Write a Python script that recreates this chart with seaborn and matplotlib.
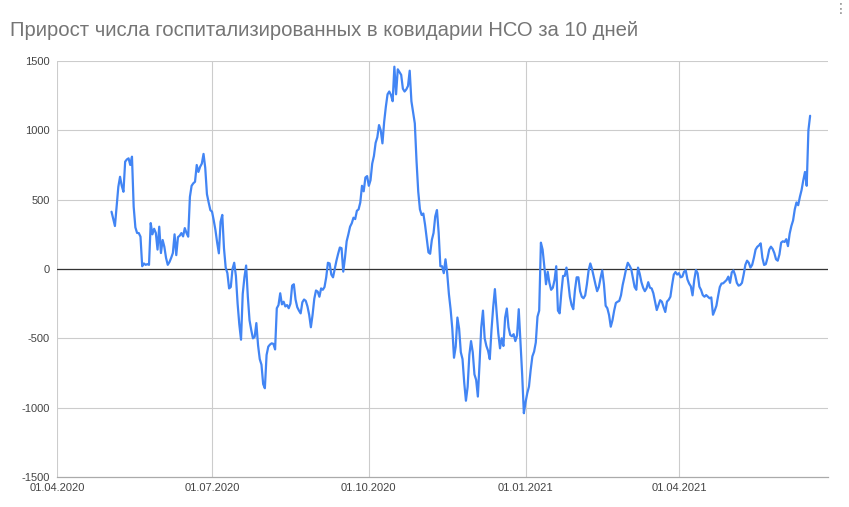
import numpy as np
import pandas as pd
import matplotlib
matplotlib.use("Agg")
import matplotlib.pyplot as plt
import matplotlib.dates as mdates
import seaborn as sns

TITLE = "Прирост числа госпитализированных в ковидарии НСО за 10 дней"
FIRST_DAY = "2020-05-03"

# daily values, month by month (May 2020 starts on the 3rd)
may_2020 = [413, 360, 310, 450, 593, 665, 600, 557, 774, 790, 798, 750, 810, 449, 300,
            260, 259, 233, 20, 40, 30, 35, 30, 331, 250, 290, 260, 140, 305]
jun_2020 = [115, 209, 160, 80, 30, 50, 80, 115, 250, 100, 230, 240, 259, 235, 295,
            260, 233, 520, 600, 618, 629, 750, 700, 737, 760, 830, 730, 540, 480, 425]
jul_2020 = [413, 350, 280, 190, 113, 340, 390, 150, 10, -30, -140, -130, 0, 45, -50,
            -250, -400, -510, -180, -60, 25, -200, -370, -440, -500, -490, -390, -550,
            -650, -690, -830]
aug_2020 = [-860, -620, -560, -545, -536, -540, -580, -283, -260, -175, -255, -236, -270,
            -260, -283, -250, -120, -110, -220, -275, -300, -320, -240, -220, -230, -270,
            -330, -420, -330, -215, -155]
sep_2020 = [-163, -200, -140, -150, -130, -60, 45, 40, -40, -60, 0, 60, 110, 155, 150,
            -19, 80, 200, 250, 305, 330, 370, 360, 420, 430, 480, 600, 560, 660, 670]
oct_2020 = [600, 640, 760, 815, 910, 950, 1038, 1000, 906, 1060, 1170, 1260, 1280, 1255,
            1210, 1459, 1260, 1440, 1420, 1400, 1300, 1280, 1295, 1320, 1430, 1210, 1130,
            1050, 780, 560, 430]
nov_2020 = [390, 400, 320, 220, 120, 110, 210, 260, 380, 425, 260, 20, 20, -30, 70, -30,
            -180, -290, -430, -640, -560, -350, -430, -600, -650, -820, -950, -850, -620,
            -520]
dec_2020 = [-600, -760, -800, -920, -680, -420, -300, -500, -555, -590, -650, -440, -275,
            -145, -310, -464, -572, -500, -555, -350, -285, -420, -476, -485, -470, -520,
            -480, -290, -520, -760, -1040]
jan_2021 = [-960, -896, -848, -728, -630, -596, -530, -344, -300, 190, 140, 20, -110, -20,
            -100, -150, -135, -80, 20, -300, -320, -170, -50, -50, 10, -90, -200, -260,
            -290, -150, -60]
feb_2021 = [-60, -160, -200, -211, -190, -110, -10, 40, 0, -55, -110, -160, -130, -65, -10,
            -110, -265, -283, -332, -416, -370, -300, -245, -236, -230, -190, -115, -60]
mar_2021 = [0, 45, 25, 0, -65, -130, -150, 10, -35, -95, -135, -160, -140, -95, -135, -140,
            -175, -236, -296, -260, -225, -236, -275, -310, -235, -222, -200, -115, -40,
            -22, -40]
apr_2021 = [-30, -60, -55, -20, -10, -75, -105, -125, -190, -79, -7, -31, -127, -151, -188,
            -200, -188, -200, -211, -205, -330, -300, -265, -195, -130, -105, -103, -91,
            -79, -55]
may_2021 = [-100, -25, -10, -45, -100, -120, -115, -100, -40, 30, 60, 45, 10, 30, 80, 140,
            160, 170, 185, 80, 29, 35, 80, 140, 161, 145, 115, 70, 60, 105, 190]
jun_2021 = [200, 195, 215, 165, 255, 310, 350, 430, 480, 460, 520, 570, 640, 700, 600,
            1000, 1105]

x_ticks = ["2020-04-01", "2020-07-01", "2020-10-01", "2021-01-01", "2021-04-01"]
y_ticks = [-1500, -1000, -500, 0, 500, 1000, 1500]

values = (may_2020 + jun_2020 + jul_2020 + aug_2020 + sep_2020 + oct_2020 + nov_2020
          + dec_2020 + jan_2021 + feb_2021 + mar_2021 + apr_2021 + may_2021 + jun_2021)
df = pd.DataFrame({
    "date": pd.date_range(FIRST_DAY, periods=len(values), freq="D"),
    "value": values,
})

sns.set_theme(style="white")
plt.rcParams["font.family"] = ["Liberation Sans", "DejaVu Sans"]
plt.rcParams["axes.unicode_minus"] = False

fig = plt.figure(figsize=(8.49, 5.07), dpi=100)
ax = fig.add_axes([57 / 849, 1 - 477 / 507, (828 - 57) / 849, (477 - 61) / 507])

sns.lineplot(data=df, x="date", y="value", ax=ax, color="#4285f4", linewidth=1.6)

ax.set_ylim(-1500, 1500)
ax.set_yticks(y_ticks)
left = pd.Timestamp("2020-04-01")
ax.set_xlim(left, left + pd.Timedelta(days=452.5))
ax.set_xticks(pd.to_datetime(x_ticks))
ax.xaxis.set_major_formatter(mdates.DateFormatter("%d.%m.%Y"))

for v in y_ticks[1:]:
    ax.axhline(v, color="#cccccc", linewidth=0.8, zorder=0)
for d in pd.to_datetime(x_ticks):
    ax.axvline(d, color="#cccccc", linewidth=0.8, zorder=0)
ax.axhline(0, color="#333333", linewidth=0.9, zorder=1)

for s in ["top", "right", "left"]:
    ax.spines[s].set_visible(False)
ax.spines["bottom"].set_color("#aaaaaa")
ax.spines["bottom"].set_linewidth(0.9)

ax.tick_params(axis="both", length=0, labelsize=8, colors="#444444")
ax.tick_params(axis="x", pad=4)
ax.tick_params(axis="y", pad=5)
ax.set_xlabel("")
ax.set_ylabel("")

fig.text(10 / 849, 1 - 30 / 507, TITLE, fontsize=14.6, color="#757575", va="center", ha="left")
fig.text(841 / 849, 1 - 9 / 507, "⋮", fontsize=10, color="#888888", ha="center", va="center",
         family=["DejaVu Sans"])

fig.savefig("out.png", dpi=100, facecolor="white")
